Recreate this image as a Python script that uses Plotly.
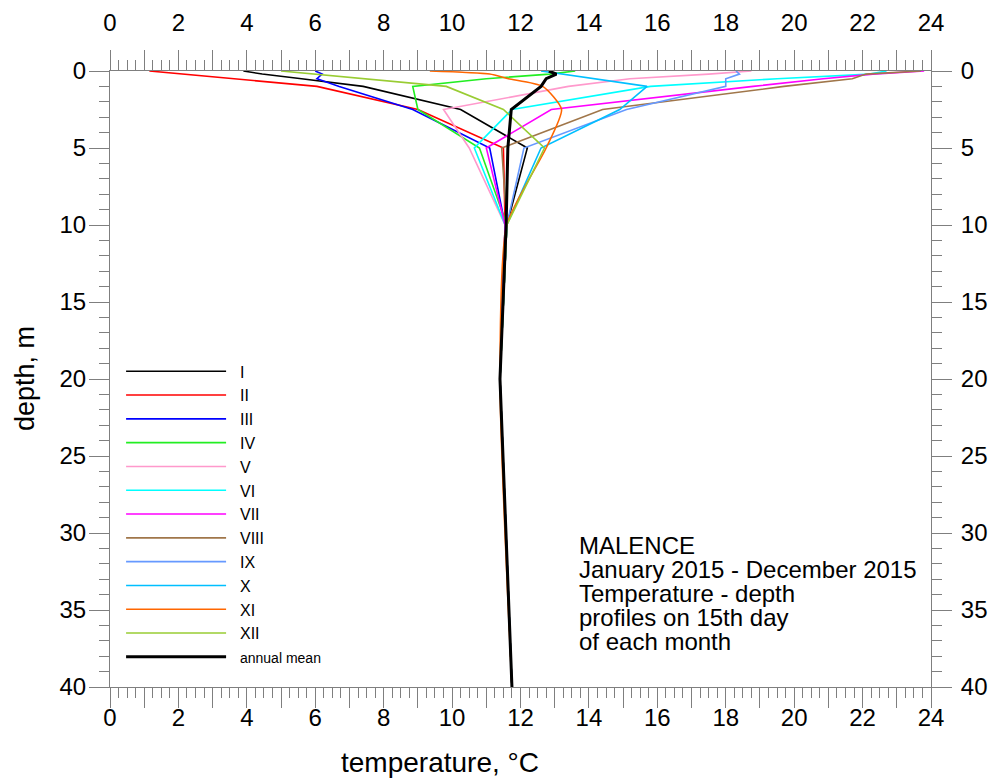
import plotly.graph_objects as go

depth = [0, 0.2, 0.5, 1, 2.5, 5, 10, 20, 40]

months = ["I", "II", "III", "IV", "V", "VI", "VII", "VIII", "IX", "X", "XI", "XII"]
colors = ["#000000", "#FF0000", "#0000FF", "#22EE22", "#FF99CC", "#00FFFF",
          "#FF00FF", "#A0764A", "#6699FF", "#00BFFF", "#FF6600", "#99CC33"]

t_I    = [3.9, 4.45, 5.6, 7.4, 10.25, 12.2, 11.6, 11.4, 11.75]
t_II   = [1.15, 2.1, 3.6, 6.05, 9.0, 11.5, 11.55, 11.4, 11.75]
t_III  = [6.0, 6.2, 6.05, 6.7, 8.85, 11.1, 11.55, 11.4, 11.75]
t_IV   = [13.6, 12.85, 11.0, 8.85, 9.0, 10.8, 11.6, 11.4, 11.75]
t_V    = [18.75, 17.5, 15.2, 13.4, 9.75, 10.5, 11.55, 11.4, 11.75]
t_VI   = [22.7, 22.2, 19.5, 15.8, 11.75, 10.65, 11.55, 11.4, 11.75]
t_VII  = [23.8, 22.3, 20.85, 18.8, 12.9, 11.0, 11.55, 11.4, 11.75]
t_VIII = [23.7, 22.1, 21.7, 19.7, 14.4, 11.45, 11.6, 11.4, 11.75]
t_IX   = [18.3, 18.4, 18.0, 18.0, 15.1, 12.1, 11.6, 11.4, 11.75]
t_X    = [12.6, 13.2, 14.2, 15.7, 14.9, 12.6, 11.6, 11.4, 11.75]
t_XI   = [9.35, 11.1, 11.65, 12.65, 13.2, 12.75, 11.6, 11.4, 11.75]
t_XII  = [5.0, 6.0, 7.4, 9.83, 11.5, 12.7, 11.6, 11.4, 11.75]
t_mean = [12.83, 13.05, 12.75, 12.6, 11.73, 11.63, 11.58, 11.4, 11.75]

series = [t_I, t_II, t_III, t_IV, t_V, t_VI, t_VII, t_VIII, t_IX, t_X, t_XI, t_XII]

x_major = list(range(0, 25))
x_labels = [str(v) if v % 2 == 0 else "" for v in x_major]
y_major = [0, 5, 10, 15, 20, 25, 30, 35, 40]

note_lines = ["MALENCE", "January 2015 - December 2015", "Temperature - depth",
              "profiles on 15th day", "of each month"]

FONT = "Liberation Sans, Arial, sans-serif"
AX = "#7f7f7f"
NB = "\u00a0\u00a0"

fig = go.Figure()
for i, (name, col, vals) in enumerate(zip(months, colors, series)):
    fig.add_trace(go.Scatter(
        x=vals, y=depth, mode="lines", name=NB + name,
        line=dict(color=col, width=1.6, shape="spline" if name == "XI" else "linear",
                  smoothing=0.6),
        legendgroup=name,
    ))
fig.add_trace(go.Scatter(
    x=t_mean, y=depth, mode="lines",
    name=NB + "<span style='font-size:14px'>annual mean</span>",
    line=dict(color="#000000", width=3), legendgroup="mean",
))
# invisible trace to activate secondary axes
fig.add_trace(go.Scatter(x=t_mean, y=depth, xaxis="x2", yaxis="y2", mode="lines",
                         line=dict(width=0), opacity=0, showlegend=False, hoverinfo="skip"))

tickfont = dict(family=FONT, size=24, color="#000000")
common_x = dict(range=[0, 24], tickmode="array", tickvals=x_major, ticktext=x_labels,
                ticks="outside", ticklen=20, tickwidth=1, tickcolor=AX,
                minor=dict(dtick=0.25, ticklen=10, tickwidth=1, tickcolor=AX, ticks="outside"),
                showline=True, linecolor=AX, linewidth=1, showgrid=False, zeroline=False,
                tickfont=tickfont, automargin=False)
common_y = dict(range=[40, 0], tickmode="array", tickvals=y_major,
                ticks="outside", ticklen=20, tickwidth=1, tickcolor=AX,
                minor=dict(dtick=1, ticklen=10, tickwidth=1, tickcolor=AX, ticks="outside"),
                showline=True, linecolor=AX, linewidth=1, showgrid=False, zeroline=False,
                tickfont=tickfont, automargin=False)

fig.update_layout(
    width=995, height=780,
    margin=dict(l=110, r=64, t=71, b=93, autoexpand=False),
    paper_bgcolor="white", plot_bgcolor="white",
    font=dict(family=FONT, color="#000000"),
    xaxis=dict(**common_x, side="bottom", ticklabelstandoff=-11),
    xaxis2=dict(**common_x, side="top", overlaying="x", anchor="y", matches="x",
                ticklabelstandoff=9),
    yaxis=dict(**common_y, side="left", ticklabelstandoff=-2),
    yaxis2=dict(**common_y, side="right", overlaying="y", anchor="x", matches="y",
                ticklabelstandoff=4),
    legend=dict(x=0.0135, y=0.54, xanchor="left", yanchor="top",
                bgcolor="rgba(0,0,0,0)", font=dict(family=FONT, size=16),
                itemwidth=100, tracegroupgap=0),
    showlegend=True,
)

fig.add_annotation(x=(440 - 110) / 821, y=(687 - 762) / 616, xref="paper", yref="paper",
                   text="temperature, °C", showarrow=False, xanchor="center", yanchor="middle",
                   font=dict(family=FONT, size=28, color="#000000"))
fig.add_annotation(x=(25 - 110) / 821, y=0.5, xref="paper", yref="paper", textangle=-90,
                   text="depth, m", showarrow=False, xanchor="center", yanchor="middle",
                   font=dict(family=FONT, size=27, color="#000000"))

for k, line in enumerate(note_lines):
    fig.add_annotation(x=13.65, y=30.8 + 1.56 * k, xref="x", yref="y",
                       text=line, showarrow=False, xanchor="left", yanchor="middle",
                       font=dict(family=FONT, size=24, color="#000000"))

fig.write_html("out.html")
